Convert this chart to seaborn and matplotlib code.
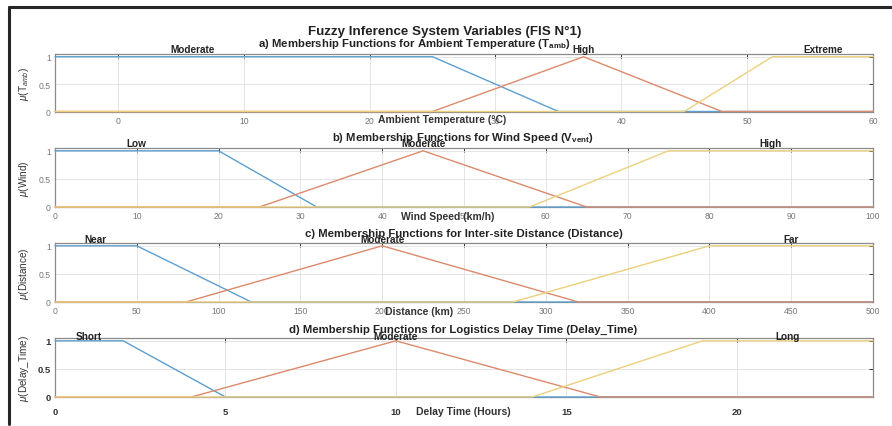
import matplotlib
matplotlib.use("Agg")
import matplotlib.pyplot as plt
import matplotlib.lines as mlines
import matplotlib.transforms as mtransforms
import seaborn as sns
import pandas as pd

# membership function parameters [a, b, c, d] (triangles have b == c)
temp_names = ["Moderate", "High", "Extreme"]
temp_params = [[-5, -5, 25, 35], [25, 37, 37, 48], [45, 52, 60, 60]]
temp_range = [-5, 60]
temp_ticks = [0, 10, 20, 30, 40, 50, 60]
temp_label_x = [5.9, 37, 56]

wind_names = ["Low", "Moderate", "High"]
wind_params = [[0, 0, 20, 32], [25, 45, 45, 65], [58, 75, 100, 100]]
wind_range = [0, 100]
wind_ticks = [0, 10, 20, 30, 40, 50, 60, 70, 80, 90, 100]
wind_label_x = [10, 45, 87.5]

dist_names = ["Near", "Moderate", "Far"]
dist_params = [[0, 0, 50, 120], [80, 200, 200, 320], [280, 400, 500, 500]]
dist_range = [0, 500]
dist_ticks = [0, 50, 100, 150, 200, 250, 300, 350, 400, 450, 500]
dist_label_x = [25, 200, 450]

delay_names = ["Short", "Moderate", "Long"]
delay_params = [[0, 0, 2, 5], [4, 10, 10, 16], [14, 19, 24, 24]]
delay_range = [0, 24]
delay_ticks = [0, 5, 10, 15, 20]
delay_label_x = [1.0, 10, 21.5]

suptitle = "Fuzzy Inference System Variables (FIS N°1)"
titles = [
    r"a) Membership Functions for Ambient Temperature (T$_{\mathbf{amb}}$)",
    r"b) Membership Functions for Wind Speed (V$_{\mathbf{vent}}$)",
    "c) Membership Functions for Inter-site Distance (Distance)",
    "d) Membership Functions for Logistics Delay Time (Delay_Time)",
]
xlabels = ["Ambient Temperature (°C)", "Wind Speed (km/h)", "Distance (km)", "Delay Time (Hours)"]
ylabels = [r"$\mu$(T$_{amb}$)", r"$\mu$(Wind)", r"$\mu$(Distance)", r"$\mu$(Delay_Time)"]

panels = [
    (temp_names, temp_params, temp_range, temp_ticks, temp_label_x),
    (wind_names, wind_params, wind_range, wind_ticks, wind_label_x),
    (dist_names, dist_params, dist_range, dist_ticks, dist_label_x),
    (delay_names, delay_params, delay_range, delay_ticks, delay_label_x),
]


def trapmf(x, p):
    a, b, c, d = p
    if b <= x <= c:
        return 1.0
    if a < x < b:
        return (x - a) / (b - a)
    if c < x < d:
        return (d - x) / (d - c)
    return 0.0


sns.set_style("white")
plt.rcParams["font.family"] = ["Liberation Sans", "DejaVu Sans"]
plt.rcParams["mathtext.fontset"] = "custom"
plt.rcParams["mathtext.rm"] = "Liberation Sans"
plt.rcParams["mathtext.bf"] = "Liberation Sans:bold"
plt.rcParams["mathtext.it"] = "Liberation Sans:italic"

W, H = 892, 427
fig = plt.figure(figsize=(W / 100, H / 100), dpi=100)
fig.patch.set_facecolor("white")

colors = ["#5d9fd0", "#dc8a6c", "#ecd07e"]

# layout in pixels
ax_left, ax_right = 55, 873
ax_tops = [55, 149, 244, 339]
ax_bottoms = [112.5, 208, 303, 398]
title_pos = [(414, 44), (463, 138), (464, 234), (463, 330)]
xlabel_pos = [(442, 120), (448, 217), (419, 312), (463, 412)]
mf_label_dy = [5, 4.5, 4, 1.5]


def fx(px):
    return px / W


def fy(py):
    return 1 - py / H


fig.text(fx(445), fy(32), suptitle, ha="center", va="center",
         fontsize=9.6, fontweight="bold", color="#222222")

for i, (names, params, rng, ticks, label_x) in enumerate(panels):
    top, bot = ax_tops[i], ax_bottoms[i]
    ax = fig.add_axes([fx(ax_left), fy(bot), (ax_right - ax_left) / W, (bot - top) / H])

    rows = []
    for name, p in zip(names, params):
        xs = sorted(set([rng[0], rng[1]] + p))
        for x in xs:
            rows.append({"mf": name, "x": x, "y": trapmf(x, p)})
    df = pd.DataFrame(rows)

    sns.lineplot(data=df, x="x", y="y", hue="mf", hue_order=names, palette=colors,
                 estimator=None, sort=False, legend=False, ax=ax, lw=1.0,
                 zorder=3, clip_on=False)

    ax.set_xlim(rng)
    ax.set_ylim(0, 1.05)
    ax.set_xticks(ticks)
    ax.set_yticks([0, 0.5, 1])
    ax.set_yticklabels(["0", "0.5", "1"])
    bold_ticks = i == 3
    ax.tick_params(direction="in", top=True, right=True, length=3, width=0.7,
                   color="#333333", labelsize=6.2 if not bold_ticks else 6.8,
                   labelcolor="#777777" if not bold_ticks else "#333333",
                   pad=3)
    ax.tick_params(axis="x", pad=3 if not bold_ticks else 7)
    if bold_ticks:
        for t in ax.get_xticklabels() + ax.get_yticklabels():
            t.set_fontweight("bold")
    ax.grid(True, color="#e0e0e0", lw=0.6)
    for s in ax.spines.values():
        s.set_color("#8a8a8a")
        s.set_linewidth(0.9)
    ax.set_xlabel("")
    ax.set_ylabel(ylabels[i], fontsize=7.2, color="#333333")
    ax.yaxis.set_label_coords(-(ax_left - 31) / (ax_right - ax_left), 0.5)

    trans = mtransforms.blended_transform_factory(ax.transData, ax.transAxes)
    dy = 1 + mf_label_dy[i] / (bot - top)
    for name, lx in zip(names, label_x):
        ax.text(lx, dy, name, transform=trans, ha="center", va="center",
                fontsize=7.2, fontweight="bold", color="#222222", zorder=5)

    tx, ty = title_pos[i]
    fig.text(fx(tx), fy(ty), titles[i], ha="center", va="center",
             fontsize=8.2, fontweight="bold", color="#222222")
    lx_, ly_ = xlabel_pos[i]
    fig.text(fx(lx_), fy(ly_), xlabels[i], ha="center", va="center",
             fontsize=7.5, fontweight="bold", color="#333333")

# screenshot frame (top and left edges)
fig.add_artist(mlines.Line2D([fx(9), 1], [fy(8), fy(8)], transform=fig.transFigure,
                             color="#262626", lw=2.2))
fig.add_artist(mlines.Line2D([fx(9), fx(9)], [fy(8), fy(425)], transform=fig.transFigure,
                             color="#262626", lw=2.2))

fig.savefig("out.png", dpi=100)
